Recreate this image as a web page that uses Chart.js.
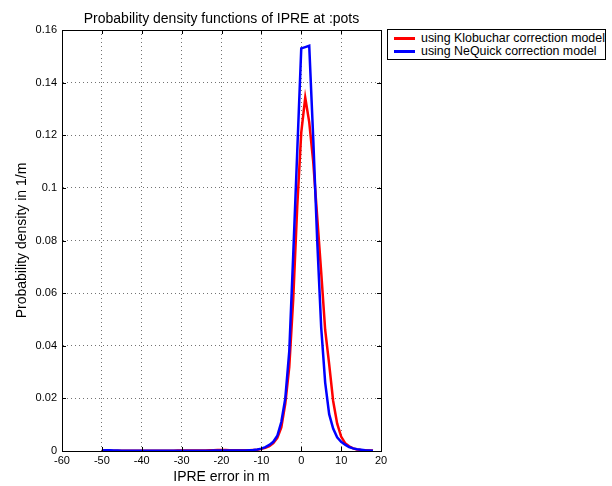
<!DOCTYPE html>
<html>
<head>
<meta charset="utf-8">
<script src="https://cdn.jsdelivr.net/npm/chart.js@4"></script>
<style>
  html, body { margin: 0; padding: 0; background: #fff; }
  #wrap { position: relative; width: 612px; height: 486px; }
  #legend { position: absolute; left: 387px; top: 29px; width: 217px; height: 29px;
            border: 1px solid #000; background: #fff;
            font-family: "Liberation Sans", Arial, sans-serif; font-size: 12.4px; color: #000; }
  .row { position: absolute; left: 0; height: 12px; line-height: 12px; white-space: nowrap; }
  .sw { position: absolute; left: 6px; top: 5px; width: 21px; height: 2.5px; }
  .lbl { position: absolute; left: 33px; top: 0; }
</style>
</head>
<body>
<div id="wrap">
  <canvas id="chart_elem" width="612" height="486"></canvas>
  <div id="legend">
    <div class="row" style="top:2px"><span class="sw" style="background:#ff0000"></span><span class="lbl">using Klobuchar correction model</span></div>
    <div class="row" style="top:15px"><span class="sw" style="background:#0000ff"></span><span class="lbl">using NeQuick correction model</span></div>
  </div>
</div>
<script>
// IPRE error bins (m)
const errorBins = [-50, -49, -48, -47, -46, -45, -44, -43, -42, -41,
                   -40, -39, -38, -37, -36, -35, -34, -33, -32, -31,
                   -30, -29, -28, -27, -26, -25, -24, -23, -22, -21,
                   -20, -19, -18, -17, -16, -15, -14, -13, -12, -11,
                   -10, -9, -8, -7, -6, -5, -4, -3, -2, -1,
                   0, 1, 2, 3, 4, 5, 6, 7, 8, 9,
                   10, 11, 12, 13, 14, 15, 16, 17, 18];

// pdf, Klobuchar
const klobuchar = [0.0003, 0.0001, 0.0001, 0.0001, 0.0001, 0.0001, 0.0001, 0.0001, 0.0001, 0.0001,
                   0.0001, 0.0001, 0.0001, 0.0001, 0.0001, 0.0001, 0.0001, 0.0001, 0.0001, 0.0002,
                   0.0002, 0.0002, 0.0002, 0.0002, 0.0002, 0.0002, 0.0002, 0.0003, 0.0003, 0.0004,
                   0.0004, 0.0004, 0.0003, 0.0003, 0.0003, 0.0003, 0.0003, 0.0003, 0.0004, 0.0005,
                   0.0008, 0.0012, 0.0018, 0.003, 0.005, 0.009, 0.018, 0.032, 0.058, 0.093,
                   0.121, 0.1343, 0.125, 0.110, 0.089, 0.068, 0.046, 0.033, 0.019, 0.0105,
                   0.0055, 0.003, 0.0018, 0.001, 0.0006, 0.0004, 0.0003, 0.0002, 0.0002];

// pdf, NeQuick
const nequick = [0.0002, 0.0003, 0.0003, 0.0002, 0.0002, 0.0001, 0.0001, 0.0001, 0.0001, 0.0001,
                 0.0001, 0.0001, 0.0001, 0.0001, 0.0001, 0.0001, 0.0001, 0.0001, 0.0001, 0.0001,
                 0.0001, 0.0001, 0.0001, 0.0001, 0.0001, 0.0001, 0.0001, 0.0001, 0.0002, 0.0002,
                 0.0002, 0.0002, 0.0002, 0.0002, 0.0002, 0.0002, 0.0002, 0.0003, 0.0004, 0.0006,
                 0.0009, 0.0015, 0.0023, 0.0035, 0.0058, 0.011, 0.020, 0.038, 0.075, 0.114,
                 0.153, 0.1535, 0.154, 0.119, 0.080, 0.047, 0.026, 0.014, 0.0085, 0.0052,
                 0.0035, 0.0024, 0.0015, 0.001, 0.0007, 0.0005, 0.0003, 0.0002, 0.0001];

const xTicks = [-60, -50, -40, -30, -20, -10, 0, 10, 20];
const yTicks = [0, 0.02, 0.04, 0.06, 0.08, 0.1, 0.12, 0.14, 0.16];

const font = 'Liberation Sans';

const toPoints = (vals) => errorBins.map((x, i) => ({ x: x, y: vals[i] }));

// MATLAB style box + inward tick marks
const boxPlugin = {
  id: 'box',
  afterDraw(chart) {
    const { ctx, chartArea: a, scales: { x, y } } = chart;
    ctx.save();
    ctx.strokeStyle = '#000';
    ctx.lineWidth = 1;
    ctx.beginPath();
    ctx.moveTo(a.left, a.top + 0.5);
    ctx.lineTo(a.right + 0.5, a.top + 0.5);
    ctx.lineTo(a.right + 0.5, a.bottom);
    xTicks.forEach(v => {
      const px = Math.round(x.getPixelForValue(v)) + 0.5;
      ctx.moveTo(px, a.bottom); ctx.lineTo(px, a.bottom - 4);
      ctx.moveTo(px, a.top); ctx.lineTo(px, a.top + 4);
    });
    yTicks.forEach(v => {
      const py = Math.round(y.getPixelForValue(v)) + 0.5;
      ctx.moveTo(a.left, py); ctx.lineTo(a.left + 4, py);
      ctx.moveTo(a.right, py); ctx.lineTo(a.right - 4, py);
    });
    ctx.stroke();
    ctx.restore();
  }
};

const canvas = document.getElementById('chart_elem');
const ctx = canvas.getContext('2d');

const config = {
  type: 'line',
  data: {
    datasets: [{
      label: 'using Klobuchar correction model',
      data: toPoints(klobuchar),
      borderColor: '#ff0000',
      borderWidth: 2.5,
      pointRadius: 0,
      order: 1
    }, {
      label: 'using NeQuick correction model',
      data: toPoints(nequick),
      borderColor: '#0000ff',
      borderWidth: 2.5,
      pointRadius: 0,
      order: 0
    }]
  },
  options: {
    responsive: false,
    animation: false,
    layout: { padding: { left: 0, right: 231, top: 0, bottom: 0 } },
    plugins: {
      legend: { display: false },
      tooltip: { enabled: false },
      title: {
        display: true,
        fullSize: false,
        text: 'Probability density functions of IPRE at :pots',
        color: '#000',
        font: { family: font, size: 14, weight: 'normal' },
        padding: { top: 11, bottom: 2.2 }
      }
    },
    scales: {
      x: {
        type: 'linear',
        min: -60, max: 20,
        afterBuildTicks: (s) => { s.ticks = xTicks.map(v => ({ value: v })); },
        afterFit: (s) => { s.height = 35; },
        ticks: { color: '#000', font: { family: font, size: 11 }, padding: 3, maxRotation: 0 },
        grid: { color: 'rgba(0,0,0,0.55)', drawTicks: false },
        border: { display: true, color: '#000', width: 1, dash: [1, 3] },
        title: {
          display: true, text: 'IPRE error in m', color: '#000',
          font: { family: font, size: 14 }, padding: { top: 0, bottom: 0 }
        }
      },
      y: {
        min: 0, max: 0.16,
        afterBuildTicks: (s) => { s.ticks = yTicks.map(v => ({ value: v })); },
        afterFit: (s) => { s.width = 62; },
        ticks: { color: '#000', font: { family: font, size: 11 }, padding: 5,
                 callback: (v) => String(+v.toFixed(2)) },
        grid: { color: 'rgba(0,0,0,0.55)', drawTicks: false },
        border: { display: true, color: '#000', width: 1, dash: [1, 3] },
        title: {
          display: true, text: 'Probability density in 1/m', color: '#000',
          font: { family: font, size: 14 }, padding: { top: 14, bottom: 0 }
        }
      }
    }
  },
  plugins: [boxPlugin]
};

const chart = new Chart(ctx, config);
</script>
</body>
</html>
